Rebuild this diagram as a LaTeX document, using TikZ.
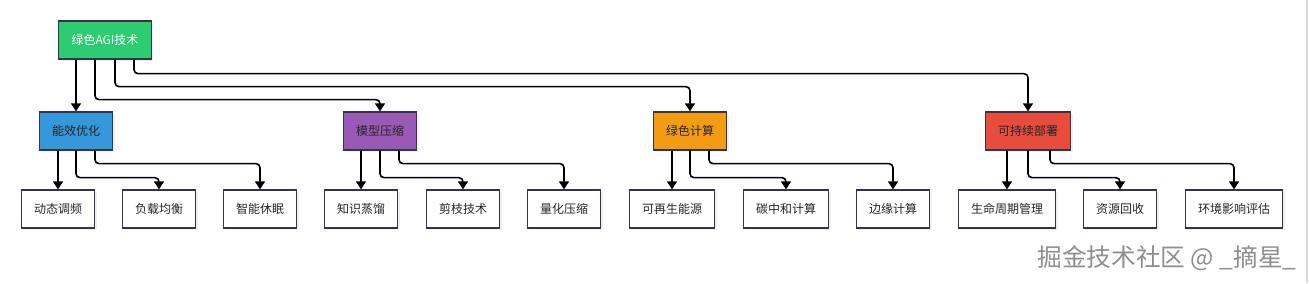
\documentclass[tikz,border=0pt]{standalone}
\usepackage{fontspec}
\setmainfont{Noto Sans CJK SC}
\usetikzlibrary{arrows.meta,shadows}

\definecolor{rootgreen}{HTML}{2ECC71}
\definecolor{effblue}{HTML}{3498DB}
\definecolor{cmppurple}{HTML}{9B59B6}
\definecolor{greenorange}{HTML}{F39C12}
\definecolor{deployred}{HTML}{E74C3C}
\definecolor{boxline}{HTML}{33334A}
\definecolor{markgray}{HTML}{8E8E8E}

\begin{document}
\begin{tikzpicture}[x=0.75pt, y=-0.75pt,
    box/.style = {draw=boxline, line width=1pt, rectangle, minimum height=28.5pt,
                  inner xsep=9.6pt, font=\fontsize{9}{10}\selectfont,
                  drop shadow={shadow xshift=1.5pt, shadow yshift=-1.5pt, opacity=0.12}},
    topbox/.style = {box, fill=rootgreen, text=white},
    groupbox/.style = {box, text=black!85},
    leafbox/.style = {box, fill=white, text=black!85},
    arr/.style = {-{Triangle[width=7.5pt,length=6pt]}, line width=1.2pt, rounded corners=3pt}]

    \useasboundingbox (0,0) rectangle (1309,283);

    % Root node
    \node[topbox] (agi) at (105,40) {绿色AGI技术};

    % Second level
    \node[groupbox, fill=effblue] (eff) at (76,131) {能效优化};
    \node[groupbox, fill=cmppurple] (cmp) at (380,131) {模型压缩};
    \node[groupbox, fill=greenorange] (gcomp) at (690,131) {绿色计算};
    \node[groupbox, fill=deployred] (dep) at (1028,131) {可持续部署};

    % Leaves
    \node[leafbox] (dvfs) at (58,209) {动态调频};
    \node[leafbox] (lb) at (159,209) {负载均衡};
    \node[leafbox] (sleep) at (260,209) {智能休眠};
    \node[leafbox] (kd) at (361,209) {知识蒸馏};
    \node[leafbox] (prune) at (463,209) {剪枝技术};
    \node[leafbox] (quant) at (564,209) {量化压缩};
    \node[leafbox] (renew) at (672,209) {可再生能源};
    \node[leafbox] (carbon) at (786,209) {碳中和计算};
    \node[leafbox] (edge) at (893,209) {边缘计算};
    \node[leafbox] (life) at (1007,209) {生命周期管理};
    \node[leafbox] (recyc) at (1120,209) {资源回收};
    \node[leafbox] (env) at (1234,209) {环境影响评估};

    % Root to second level
    \draw[arr] ([xshift=-21.75pt]agi.south) -- (eff.north);
    \draw[arr] ([xshift=-7.5pt]agi.south) -- ++(0,40) -| (cmp.north);
    \draw[arr] ([xshift=7.5pt]agi.south) -- ++(0,27) -| (gcomp.north);
    \draw[arr] ([xshift=21.75pt]agi.south) -- ++(0,14) -| (dep.north);

    % Second level to leaves
    \draw[arr] (eff.south -| dvfs.north) -- (dvfs.north);
    \draw[arr] (eff.south) -- ++(0,27) -| (lb.north);
    \draw[arr] ([xshift=14.25pt]eff.south) -- ++(0,13) -| (sleep.north);

    \draw[arr] (cmp.south -| kd.north) -- (kd.north);
    \draw[arr] (cmp.south) -- ++(0,27) -| (prune.north);
    \draw[arr] ([xshift=14.25pt]cmp.south) -- ++(0,13) -| (quant.north);

    \draw[arr] (gcomp.south -| renew.north) -- (renew.north);
    \draw[arr] (gcomp.south) -- ++(0,27) -| (carbon.north);
    \draw[arr] ([xshift=14.25pt]gcomp.south) -- ++(0,13) -| (edge.north);

    \draw[arr] (dep.south -| life.north) -- (life.north);
    \draw[arr] (dep.south) -- ++(0,27) -| (recyc.north);
    \draw[arr] ([xshift=16.5pt]dep.south) -- ++(0,13) -| (env.north);

    % Watermark and right edge
    \node[text=markgray, font=\fontsize{18.5}{20}\selectfont, anchor=east, inner sep=0pt] (mark) at (1297,258) {掘金技术社区 @ \_摘星\_};
    \draw[black!15, line width=1.5pt] (1307,0) -- (1307,283);
\end{tikzpicture}
\end{document}
